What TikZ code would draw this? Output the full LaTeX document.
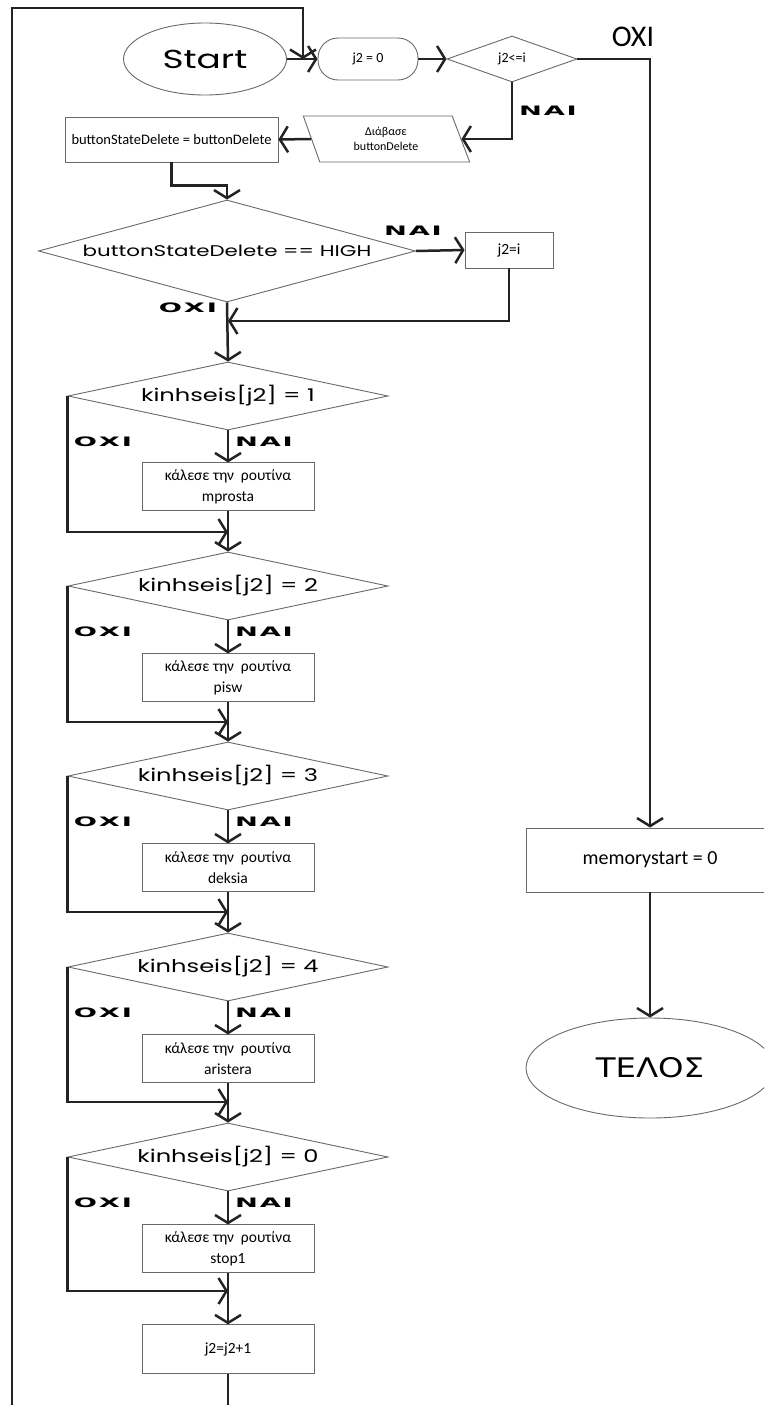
\documentclass[tikz,border=0pt]{standalone}
\usepackage{fontspec}
\setmainfont{Carlito}
\newfontfamily\decfont[FakeStretch=1.38]{Poppins}
\newfontfamily\ynfont[FakeStretch=2.1, LetterSpace=14]{DejaVu Sans}
\newfontfamily\endfont[FakeStretch=1.2]{DejaVu Sans}
\usetikzlibrary{shapes.geometric, arrows.meta, positioning, calc}
\definecolor{ink}{RGB}{35, 35, 35}
\definecolor{edge}{RGB}{105, 105, 105}

\begin{document}
\begin{tikzpicture}[
            x=1pt, y=-1pt,
            proc/.style={draw=edge, line width=0.9pt, rectangle, minimum width=172pt, minimum height=48pt, inner sep=1pt, align=center, font=\fontsize{15.5}{21}\selectfont},
            dec/.style={draw=edge, line width=0.9pt, diamond, aspect=4.7, minimum width=320pt, minimum height=68pt, inner sep=0pt, font=\decfont\fontsize{17.5}{20}\selectfont},
            term/.style={draw=edge, line width=0.9pt, ellipse, inner sep=0pt},
            yn/.style={font=\ynfont\bfseries\fontsize{13}{14}\selectfont, inner sep=0pt},
            line/.style={draw=ink, line width=2.5pt},
            arrow/.style={line, -{Straight Barb[length=8pt, width=26pt]}}
        ]
            \clip (0,0) rectangle (764,1405);
            
            % start, loop counter and test
            \node[term, minimum width=163pt, minimum height=72pt, font=\decfont\fontsize{26}{28}\selectfont] (start) at (205,59) {Start};
            \node[draw=edge, line width=0.9pt, rounded corners=20pt, minimum width=100pt, minimum height=42pt, font=\fontsize{14}{16}\selectfont] (init) at (368,59) {j2 = 0};
            \node[draw=edge, line width=0.9pt, diamond, aspect=2.8, minimum width=130pt, minimum height=46pt, inner sep=0pt, font=\fontsize{14}{16}\selectfont] (cond) at (512,59) {j2<=i};
            \node[yn] (nai0) at (548,111) {ΝΑΙ};
            \node[font=\fontsize{30}{30}\selectfont, inner sep=0pt] (oxi0) at (633,37) {ΟΧΙ};
            
            \draw[arrow] (start) -- (init);
            \draw[arrow] (init) -- (cond);
            
            % read the delete button
            \node[draw=edge, line width=0.9pt, trapezium, trapezium left angle=108, trapezium right angle=71, trapezium stretches=true, minimum width=167pt, minimum height=46pt, inner sep=1pt, align=center, font=\fontsize{12}{15}\selectfont] (read) at (386,139) {Διάβασε\\buttonDelete};
            \node[proc, minimum width=213pt, minimum height=45pt, font=\fontsize{14.5}{16}\selectfont] (copy) at (171.5,139.5) {buttonStateDelete = buttonDelete};
            
            \draw[arrow] (cond.south) |- (read.east);
            \draw[arrow] (read.west) -- (copy.east);
            
            \node[dec, aspect=3.7, minimum width=377pt, minimum height=102pt, font=\decfont\fontsize{15.5}{17}\selectfont] (del) at (227,251) {buttonStateDelete == HIGH};
            \node[proc, minimum width=88pt, minimum height=36pt] (jset) at (509,250) {j2=i};
            \node[yn] (nai1) at (413,231) {ΝΑΙ};
            \node[yn] (oxi1) at (188,308) {ΟΧΙ};
            \coordinate (back) at (228,321);
            
            \draw[arrow] (copy.south) -- ++(0,23) -| (del.north);
            \draw[arrow] (del.east) -- (jset.west);
            \draw[arrow] (jset.south) |- (back);
            
            % movement tests
            \node[dec] (k1) at (228,396) {kinhseis[j2] = 1};
            \node[proc, below=32pt of k1] (c1) {κάλεσε την\ \ ρουτίνα\\mprosta};
            \node[yn] (oxik1) at (103,442) {ΟΧΙ};
            \node[yn] (naik1) at (264,442) {ΝΑΙ};
            \coordinate (m1) at (228,532);
            
            \node[dec] (k2) at (228,586) {kinhseis[j2] = 2};
            \node[proc, below=33pt of k2] (c2) {κάλεσε την\ \ ρουτίνα\\pisw};
            \node[yn] (oxik2) at (103,632) {ΟΧΙ};
            \node[yn] (naik2) at (264,632) {ΝΑΙ};
            \coordinate (m2) at (228,722);
            
            \node[dec] (k3) at (228,776) {kinhseis[j2] = 3};
            \node[proc, below=33pt of k3] (c3) {κάλεσε την\ \ ρουτίνα\\deksia};
            \node[yn] (oxik3) at (103,822) {ΟΧΙ};
            \node[yn] (naik3) at (264,822) {ΝΑΙ};
            \coordinate (m3) at (228,912);
            
            \node[dec] (k4) at (228,967) {kinhseis[j2] = 4};
            \node[proc, below=33pt of k4] (c4) {κάλεσε την\ \ ρουτίνα\\aristera};
            \node[yn] (oxik4) at (103,1013) {ΟΧΙ};
            \node[yn] (naik4) at (264,1013) {ΝΑΙ};
            \coordinate (m4) at (228,1102);
            
            \node[dec] (k5) at (228,1157) {kinhseis[j2] = 0};
            \node[proc, below=33pt of k5] (c5) {κάλεσε την\ \ ρουτίνα\\stop1};
            \node[yn] (oxik5) at (103,1203) {ΟΧΙ};
            \node[yn] (naik5) at (264,1203) {ΝΑΙ};
            \coordinate (m5) at (228,1291);
            
            \node[proc, minimum height=49pt, below=51pt of c5] (inc) {j2=j2+1};
            
            \draw[arrow] (del.south) -- (k1.north);
            \draw[arrow] (k1) -- (c1);
            \draw[arrow] (k1.west) |- (m1);
            \draw[arrow] (c1) -- (k2);
            \draw[arrow] (k2) -- (c2);
            \draw[arrow] (k2.west) |- (m2);
            \draw[arrow] (c2) -- (k3);
            \draw[arrow] (k3) -- (c3);
            \draw[arrow] (k3.west) |- (m3);
            \draw[arrow] (c3) -- (k4);
            \draw[arrow] (k4) -- (c4);
            \draw[arrow] (k4.west) |- (m4);
            \draw[arrow] (c4) -- (k5);
            \draw[arrow] (k5) -- (c5);
            \draw[arrow] (k5.west) |- (m5);
            \draw[arrow] (c5) -- (inc);
            
            % back to the top of the loop
            \coordinate (loopin) at (303,59);
            \draw[arrow] (inc.south) -- ++(0,60) -| (12,8) -| (loopin);
            
            % end of the loop
            \node[proc, minimum width=248pt, minimum height=64pt, font=\fontsize{20}{22}\selectfont] (mem) at (650,860) {memorystart = 0};
            \node[term, minimum width=248pt, minimum height=100pt, font=\endfont\fontsize{27}{28}\selectfont] (stop) at (650,1068) {ΤΕΛΟΣ};
            
            \draw[arrow] (cond.east) -| (mem.north);
            \draw[arrow] (mem) -- (stop);
        \end{tikzpicture}
\end{document}
